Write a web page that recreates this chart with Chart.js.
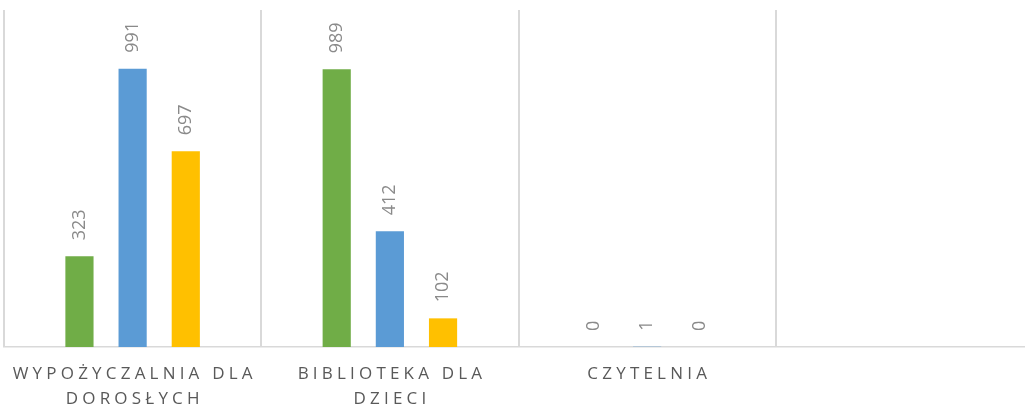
<!DOCTYPE html>
<html>
<head>
<meta charset="utf-8">
<script src="https://cdn.jsdelivr.net/npm/chart.js@4/dist/chart.umd.min.js"></script>
<style>
  html, body { margin: 0; padding: 0; background: #fff; overflow: hidden; }
  #wrap { position: relative; width: 1034px; height: 411px; }
</style>
</head>
<body>
<div id="wrap"><canvas id="bar-chart"></canvas></div>
<script>
// Category labels (already split into lines, as in the picture)
var categories = [
    ["WYPOŻYCZALNIA DLA", "DOROSŁYCH"],
    ["BIBLIOTEKA DLA", "DZIECI"],
    ["CZYTELNIA"],
    [""]
];

// Series values
var seriesGreen  = [323, 989, 0, null];
var seriesBlue   = [991, 412, 1, null];
var seriesYellow = [697, 102, 0, null];

var seriesColors = ["#70ad47", "#5b9bd5", "#ffc000"];

// Value labels, rotated, above each bar
var valueLabels = {
    id: "valueLabels",
    afterDatasetsDraw: function(chart) {
        var ctx = chart.ctx;
        ctx.save();
        ctx.font = "18px 'Open Sans'";
        ctx.fillStyle = "#8a8a8a";
        ctx.textAlign = "left";
        ctx.textBaseline = "middle";
        chart.data.datasets.forEach(function(ds, i) {
            chart.getDatasetMeta(i).data.forEach(function(bar, j) {
                var v = ds.data[j];
                if (v === null || v === undefined) return;
                ctx.save();
                ctx.translate(bar.x, bar.y - 16);
                ctx.rotate(-Math.PI / 2);
                ctx.fillText(String(v), 0, 0);
                ctx.restore();
            });
        });
        ctx.restore();
    }
};

// Letter-spaced category labels under the axis
var categoryLabels = {
    id: "categoryLabels",
    afterDraw: function(chart) {
        var ctx = chart.ctx;
        var xScale = chart.scales.x;
        var spacing = 4.2;
        ctx.save();
        ctx.font = "17px 'Open Sans'";
        ctx.fillStyle = "#595959";
        ctx.textAlign = "center";
        ctx.textBaseline = "middle";
        ctx.letterSpacing = spacing + "px";
        categories.forEach(function(lines, i) {
            var x = xScale.getPixelForValue(i) + spacing / 2;
            lines.forEach(function(line, k) {
                ctx.fillText(line, x, 374 + k * 25);
            });
        });
        ctx.restore();
    }
};

var ctx = document.getElementById("bar-chart");

var chartData = {
    labels: categories,
    datasets: [
        { label: "Seria 1", data: seriesGreen,  backgroundColor: seriesColors[0] },
        { label: "Seria 2", data: seriesBlue,   backgroundColor: seriesColors[1] },
        { label: "Seria 3", data: seriesYellow, backgroundColor: seriesColors[2] }
    ]
};

var chartOptions = {
    responsive: true,
    maintainAspectRatio: false,
    animation: false,
    layout: { padding: { left: 4, right: 1, top: 10, bottom: 64 } },
    datasets: {
        bar: { categoryPercentage: 0.62, barPercentage: 0.53 }
    },
    plugins: {
        legend: { display: false },
        tooltip: { enabled: false }
    },
    scales: {
        x: {
            grid: { display: true, offset: true, color: "#d9d9d9", lineWidth: 2, drawTicks: false },
            border: { display: true, color: "#d9d9d9", width: 1.5 },
            ticks: { display: false }
        },
        y: {
            display: false,
            min: 0,
            max: 1200
        }
    }
};

var config = {
    type: "bar",
    data: chartData,
    options: chartOptions,
    plugins: [valueLabels, categoryLabels]
};

// Create the chart
var barChart = new Chart(ctx, config);
</script>
</body>
</html>
